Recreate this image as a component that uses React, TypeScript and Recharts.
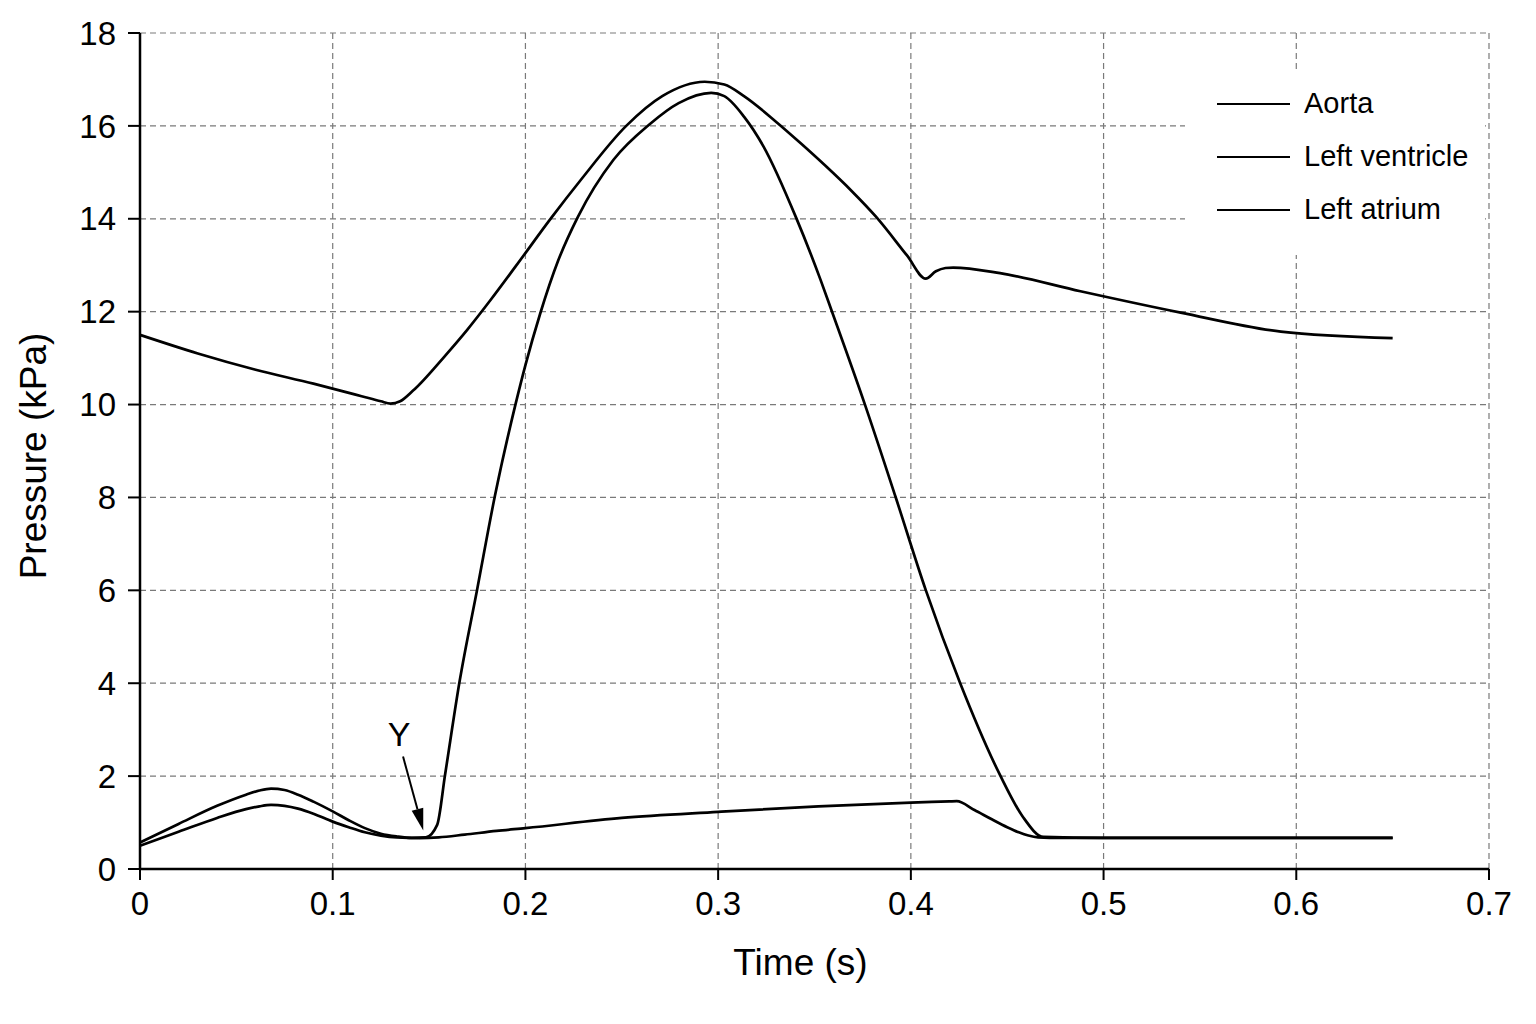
import {
  LineChart, Line, XAxis, YAxis, CartesianGrid, Legend,
  ReferenceLine, ReferenceDot,
} from 'recharts';

const FONT = '"Liberation Sans", Arial, Helvetica, sans-serif';

// values (time in s, pressure in kPa)
const aortaT = [0, 0.03, 0.06, 0.09, 0.115, 0.125, 0.13, 0.135, 0.1417, 0.1583, 0.17, 0.1817, 0.195, 0.2136, 0.2288, 0.2523, 0.271, 0.293, 0.3032, 0.3134, 0.3303, 0.343, 0.3557, 0.369, 0.382, 0.398, 0.4077, 0.413, 0.418, 0.422, 0.4463, 0.488, 0.54, 0.592, 0.65];
const aortaP = [11.5, 11.1, 10.75, 10.45, 10.18, 10.07, 10.02, 10.07, 10.3, 11.05, 11.62, 12.24, 12.98, 14.03, 14.84, 16.0, 16.64, 16.95, 16.89, 16.64, 16.08, 15.62, 15.14, 14.61, 14.04, 13.21, 12.71, 12.87, 12.94, 12.95, 12.83, 12.44, 11.98, 11.57, 11.43];

const ventricleT = [0, 0.02, 0.04, 0.055, 0.062, 0.068, 0.075, 0.082, 0.09, 0.1, 0.1083, 0.1167, 0.125, 0.1333, 0.141, 0.1483, 0.1542, 0.1583, 0.1658, 0.175, 0.1842, 0.195, 0.2, 0.2076, 0.217, 0.2271, 0.2457, 0.2643, 0.2795, 0.2964, 0.3032, 0.3134, 0.3235, 0.3404, 0.3531, 0.359, 0.376, 0.392, 0.4077, 0.4255, 0.4463, 0.458, 0.4688, 0.5, 0.65];
const ventricleP = [0.57, 0.97, 1.36, 1.6, 1.69, 1.73, 1.7, 1.6, 1.45, 1.24, 1.05, 0.88, 0.76, 0.7, 0.67, 0.68, 0.95, 2.03, 4.03, 6.03, 8.04, 10.03, 10.85, 11.95, 13.1, 14.03, 15.27, 16.03, 16.49, 16.71, 16.64, 16.2, 15.56, 14.03, 12.69, 12.01, 10.02, 8.02, 6.01, 4.01, 2.02, 1.13, 0.69, 0.67, 0.67];

const atriumT = [0, 0.02, 0.04, 0.055, 0.062, 0.068, 0.075, 0.082, 0.09, 0.1, 0.1083, 0.1167, 0.125, 0.1333, 0.145, 0.155, 0.1685, 0.185, 0.2, 0.25, 0.3, 0.352, 0.4, 0.42, 0.4238, 0.433, 0.442, 0.45, 0.456, 0.461, 0.466, 0.472, 0.65];
const atriumP = [0.5, 0.8, 1.1, 1.29, 1.35, 1.38, 1.36, 1.3, 1.19, 1.02, 0.9, 0.79, 0.72, 0.68, 0.665, 0.68, 0.74, 0.82, 0.88, 1.1, 1.23, 1.35, 1.43, 1.455, 1.46, 1.27, 1.07, 0.9, 0.79, 0.72, 0.68, 0.67, 0.67];

const xTicks = [0, 0.1, 0.2, 0.3, 0.4, 0.5, 0.6, 0.7];
const yTicks = [0, 2, 4, 6, 8, 10, 12, 14, 16, 18];

// "Y" marker: label point and arrow from/to
const markLabel = { t: 0.1345, p: 2.9 };
const arrowFrom = { t: 0.1365, p: 2.42 };
const arrowTo = { t: 0.147, p: 0.83 };

const zip = (ts: number[], ps: number[]) => ts.map((t, i) => ({ t, p: ps[i] }));

const series = [
  { name: 'Aorta', data: zip(aortaT, aortaP) },
  { name: 'Left ventricle', data: zip(ventricleT, ventricleP) },
  { name: 'Left atrium', data: zip(atriumT, atriumP) },
];
const order = series.map(s => s.name);

const Arrow = (props: any) => {
  const { x1, y1, x2, y2 } = props;
  const ang = Math.atan2(y2 - y1, x2 - x1);
  const len = 22, half = 6;
  const bx = x2 - len * Math.cos(ang), by = y2 - len * Math.sin(ang);
  const px = -Math.sin(ang) * half, py = Math.cos(ang) * half;
  return (
    <g>
      <line x1={x1} y1={y1} x2={bx} y2={by} stroke='#000' strokeWidth={2} />
      <polygon points={`${x2},${y2} ${bx + px},${by + py} ${bx - px},${by - py}`} fill='#000' />
    </g>
  );
};

const renderLegend = (props: any) => {
  const items = [...(props.payload || [])].sort((a: any, b: any) => order.indexOf(a.value) - order.indexOf(b.value));
  return (
    <div style={{ background: '#fff', width: 300, height: 185, paddingTop: 7, boxSizing: 'border-box', fontFamily: FONT }}>
      {items.map((entry: any) => (
        <div key={entry.value} style={{ display: 'flex', alignItems: 'center', height: 53 }}>
          <span style={{ width: 73, borderTop: '2.5px solid #000', marginLeft: 32, marginRight: 14 }} />
          <span style={{ fontSize: 29, color: '#000', lineHeight: 1 }}>{entry.value}</span>
        </div>
      ))}
    </div>
  );
};

const tickStyle = { fontSize: 33, fill: '#000', fontFamily: FONT };

export default function App() {
  return (
    <div style={{ width: 1520, height: 1000, fontFamily: FONT, background: '#fff' }}>
      <LineChart width={1520} height={1000} margin={{ top: 25, right: 39, bottom: 0, left: 0 }}>
        <CartesianGrid stroke='#7a7a7a' strokeWidth={1.2} strokeDasharray='6 4' />
        <XAxis
          type='number' dataKey='t' domain={[0, 0.7]} ticks={xTicks} interval={0} height={139}
          tick={tickStyle} tickSize={11} tickMargin={12}
          tickLine={{ stroke: '#000', strokeWidth: 2 }} axisLine={{ stroke: '#000', strokeWidth: 2.5 }}
          label={{ value: 'Time (s)', position: 'insideBottom', offset: 33, dx: -14, fontSize: 37, fill: '#000', fontFamily: FONT }}
        />
        <YAxis
          type='number' domain={[0, 18]} ticks={yTicks} interval={0} width={132}
          tick={tickStyle} tickSize={12} tickMargin={12}
          tickLine={{ stroke: '#000', strokeWidth: 2 }} axisLine={{ stroke: '#000', strokeWidth: 2.5 }}
          label={{ value: 'Pressure (kPa)', angle: -90, position: 'insideLeft', offset: 25, dy: 5, fontSize: 37, fill: '#000', fontFamily: FONT, style: { textAnchor: 'middle' } }}
        />
        <Legend
          layout='vertical' align='center' verticalAlign='middle'
          wrapperStyle={{ left: 1177, top: 62, width: 300, height: 185 }}
          content={renderLegend}
        />
        {series.map(s => (
          <Line
            key={s.name} name={s.name} data={s.data} dataKey='p' type='monotone'
            stroke='#000' strokeWidth={2.7} dot={false} activeDot={false} isAnimationActive={false}
          />
        ))}
        <ReferenceLine
          segment={[{ x: arrowFrom.t, y: arrowFrom.p }, { x: arrowTo.t, y: arrowTo.p }]}
          shape={Arrow}
        />
        <ReferenceDot
          x={markLabel.t} y={markLabel.p} r={0} stroke='none' fill='none'
          label={{ value: 'Y', position: 'center', fontSize: 34, fill: '#000', fontFamily: FONT }}
        />
      </LineChart>
    </div>
  );
}
